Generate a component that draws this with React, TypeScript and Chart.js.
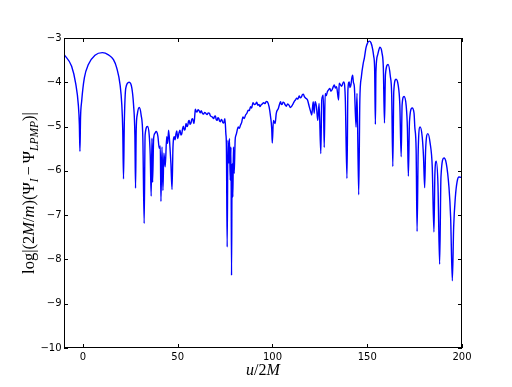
import React, { useEffect, useRef } from 'react';
import { Chart, registerables } from 'chart.js';

Chart.register(...registerables);

// u/2M values (each line aligned with the same line in logValues)
const uValues: number[] = [
  -10.0, -5.98, -3.87, -2.44, -1.9, -1.59, -1.27, -0.69, 0.74, 2.86, 6.35, 10.27, 13.45, 16.1,
  17.85, 19.6, 20.5, 21.0, 21.4, 21.8, 22.6, 24.36, 25.8, 26.7, 27.4, 27.75, 28.1, 28.7, 29.65, 30.7,
  31.6, 32.3, 32.8, 34.1, 34.95, 35.5, 36.0, 36.4, 36.75, 37.3, 38.0, 38.65, 39.55, 40.25, 40.8, 41.15, 41.7,
  42.2, 42.7, 43.4, 44.2, 44.7, 45.2, 45.9, 46.4, 47.0, 47.5, 48.2, 48.6, 49.1, 49.5, 50.0, 50.4, 50.8,
  51.2, 51.7, 52.1, 52.6, 53.0, 53.5, 53.9, 54.4, 54.9, 55.3, 55.7, 56.1, 56.5, 57.0, 57.4, 57.9,
  58.3, 58.6, 59.0, 59.3, 59.8, 60.2, 60.7, 61.4, 61.9, 62.4, 62.9, 63.5, 64.3, 64.8, 65.5, 66.1,
  66.7, 67.3, 68.1,
  69.0, 69.4, 69.9, 70.3, 70.8, 71.2, 71.7, 72.1, 72.5, 73.0, 73.4, 73.8, 74.3, 74.6, 74.9,
  75.4, 75.7, 76.1, 76.5, 77.0, 77.3, 77.7, 78.1, 78.4, 78.7, 79.1, 79.4, 79.8, 80.3,
  80.7, 81.0, 81.4, 81.9, 82.5, 83.1, 83.8, 84.4, 85.1, 85.8, 86.5, 87.2, 87.8, 88.4, 89.0,
  89.7, 90.4, 91.1, 91.7, 92.3, 92.9, 93.4, 94.0, 94.6, 95.3,
  96.1, 96.7, 97.3, 98.2, 99.0, 99.6, 99.9, 100.5, 101.4, 102.0, 103.1, 104.3, 104.7, 105.2,
  105.6, 106.1, 106.7, 107.3, 108.0, 108.8, 109.4, 110.0, 110.7, 111.4, 112.1, 112.8, 113.4,
  114.1, 114.7, 115.3, 115.8, 116.3, 116.9, 117.6, 118.5, 119.4, 120.2, 120.7, 121.5,
  122.0, 122.5, 123.2, 123.9, 124.6, 125.5, 126.0, 126.8, 127.3, 127.8, 128.4, 129.0, 129.6,
  130.3, 130.8, 131.3, 131.9, 132.6, 133.2, 133.8, 134.9, 135.2, 136.5, 137.5, 138.4, 139.3,
  139.8, 140.5, 140.9, 141.4, 141.8, 142.3, 142.7, 143.2, 144.1, 144.6, 145.5, 146.1, 146.9, 147.9,
  148.5, 149.3, 150.2, 151.1, 152.0, 152.9, 153.4, 153.9, 154.3, 154.6, 155.5, 156.7, 157.8, 158.5,
  159.1, 159.6, 161.0, 162.2, 162.9, 163.5, 164.0, 165.2, 166.3, 167.2, 167.9, 168.4, 169.4, 170.5,
  171.2, 171.7, 172.3, 173.7,
  174.7, 175.1, 175.8, 176.3, 176.9, 177.9, 179.0, 179.7, 180.3, 180.8, 182.0, 183.2, 184.3, 185.2,
  185.7, 186.4, 187.3, 188.2, 188.9, 190.5, 191.7, 193.1, 194.0, 194.9, 195.6, 196.5, 197.4, 198.4,
  199.6, 200.0,
];

// log|(2M/m)(Psi_I - Psi_LPMP)| values
const logValues: number[] = [
  -3.37, -3.64, -4.02, -4.51, -4.95, -5.56, -4.8, -4.43, -3.90, -3.60, -3.39, -3.33, -3.38, -3.49,
  -3.68, -4.06, -4.51, -5.08, -6.18, -4.97, -4.13, -4.0, -4.13, -4.51, -5.19, -6.39, -5.08, -4.72, -4.57, -4.74,
  -5.26, -7.19, -5.19, -5.0, -5.19, -5.64, -6.57, -5.26, -6.26, -5.26, -5.15, -5.11, -5.22, -5.49, -5.44, -6.69, -5.46,
  -6.44, -5.6, -5.91, -5.23, -5.38, -5.08, -5.46, -5.83, -6.42, -5.46, -5.23, -5.3, -5.16, -5.1, -5.27, -5.2, -5.12,
  -5.08, -5.19, -5.17, -5.04, -4.99, -5.08, -5.06, -4.93, -5.0, -4.97, -4.88, -4.86, -4.95, -4.92, -4.84, -4.82,
  -4.9, -4.93, -4.75, -4.61, -4.66, -4.67, -4.62, -4.65, -4.69, -4.64, -4.69, -4.72, -4.68, -4.7, -4.73, -4.69,
  -4.70, -4.76, -4.78,
  -4.82, -4.77, -4.76, -4.84, -4.86, -4.8, -4.82, -4.88, -4.89, -4.84, -4.86, -4.91, -4.92, -4.86, -4.82,
  -5.16, -5.46, -7.72, -5.31, -5.83, -5.27, -6.21, -5.46, -8.36, -5.83, -6.59, -5.46, -6.06, -5.31,
  -5.2, -5.16, -5.08, -5.01, -5.04, -4.97, -4.9, -4.78, -4.82, -4.74, -4.7, -4.63, -4.64, -4.55, -4.58,
  -4.46, -4.5, -4.49, -4.45, -4.52, -4.5, -4.55, -4.51, -4.49, -4.46,
  -4.48, -4.43, -4.44, -4.55, -4.78, -5.04, -5.37, -4.86, -4.93, -4.70, -4.59, -4.44, -4.5, -4.49,
  -4.45, -4.46, -4.51, -4.54, -4.49, -4.52, -4.57, -4.55, -4.5, -4.44, -4.4, -4.36, -4.38,
  -4.31, -4.35, -4.33, -4.28, -4.27, -4.33, -4.36, -4.40, -4.55, -4.67, -4.74, -4.44,
  -4.70, -4.44, -4.55, -4.86, -4.48, -5.61, -4.40, -4.29, -5.47, -4.25, -4.3, -4.21, -4.17,
  -4.14, -4.2, -4.18, -4.12, -4.06, -4.13, -4.10, -4.40, -4.02, -4.09, -3.99, -4.33, -6.17,
  -4.18, -3.99, -4.12, -4.06, -3.92, -3.84, -4.0, -4.10, -5.01, -4.25, -6.54, -4.40, -3.88, -3.57,
  -3.45, -3.23, -3.11, -3.07, -3.11, -3.26, -3.41, -3.68, -4.95, -3.75, -3.38, -3.21, -3.34, -3.68,
  -4.92, -3.83, -3.60, -3.87, -4.28, -5.90, -4.21, -3.93, -4.06, -4.51, -5.68, -4.51, -4.32, -4.51,
  -5.04, -6.12, -4.88, -4.58,
  -4.70, -5.01, -5.53, -7.37, -5.53, -5.01, -5.23, -5.69, -6.38, -5.53, -5.16, -5.38, -5.91, -7.38,
  -6.06, -5.78, -6.29, -8.11, -6.14, -5.71, -5.83, -6.36, -7.04, -8.48, -7.27, -6.59, -6.25, -6.14,
  -6.15, -6.17,
];

const xTicks: number[] = [0, 50, 100, 150, 200];
const yTicks: number[] = [-10, -9, -8, -7, -6, -5, -4, -3];

type Seg = { t: string; it?: boolean; sub?: boolean; gap?: number };

const yLabelSegs: Seg[] = [
  { t: 'log' },
  { t: '|(2' },
  { t: 'M', it: true },
  { t: '/' },
  { t: 'm', it: true },
  { t: ')(Ψ' },
  { t: 'I', it: true, sub: true },
  { t: '−', gap: 3 },
  { t: 'Ψ' },
  { t: 'LPMP', it: true, sub: true },
  { t: ')|' },
];

const xLabelSegs: Seg[] = [
  { t: 'u', it: true },
  { t: '/2' },
  { t: 'M', it: true },
];

const FAMILY = '"Liberation Serif", "DejaVu Serif", serif';

function fontFor(s: Seg, size: number) {
  const sz = s.sub ? size * 0.7 : size;
  return `${s.it ? 'italic ' : ''}${sz}px ${FAMILY}`;
}

function drawRich(ctx: CanvasRenderingContext2D, segs: Seg[], size: number, cx: number) {
  let total = 0;
  const widths: number[] = [];
  segs.forEach((s) => {
    ctx.font = fontFor(s, size);
    const w = ctx.measureText(s.t).width + 2 * (s.gap || 0);
    widths.push(w);
    total += w;
  });
  let x = cx - total / 2;
  ctx.textBaseline = 'alphabetic';
  ctx.textAlign = 'left';
  segs.forEach((s, i) => {
    ctx.font = fontFor(s, size);
    ctx.fillText(s.t, x + (s.gap || 0), s.sub ? size * 0.25 : 0);
    x += widths[i];
  });
}

function fmt(v: number | string) {
  return String(v).replace('-', '\u2212');
}

export default function App() {
  const ref = useRef<HTMLCanvasElement>(null);

  useEffect(() => {
    if (!ref.current) return;
    const points = uValues.map((u, i) => ({ x: u, y: logValues[i] }));

    const decor = {
      id: 'decor',
      afterDraw(chart: any) {
        const { ctx, chartArea: a, scales } = chart;
        ctx.save();
        ctx.strokeStyle = '#000';
        ctx.lineWidth = 1;
        ctx.strokeRect(a.left + 0.5, a.top + 0.5, a.right - a.left - 1, a.bottom - a.top - 1);
        ctx.beginPath();
        xTicks.forEach((v) => {
          const px = Math.round(scales.x.getPixelForValue(v)) + 0.5;
          ctx.moveTo(px, a.bottom);
          ctx.lineTo(px, a.bottom - 4);
          ctx.moveTo(px, a.top);
          ctx.lineTo(px, a.top + 4);
        });
        yTicks.forEach((v) => {
          const py = Math.round(scales.y.getPixelForValue(v)) + 0.5;
          ctx.moveTo(a.left, py);
          ctx.lineTo(a.left + 4, py);
          ctx.moveTo(a.right, py);
          ctx.lineTo(a.right - 4, py);
        });
        ctx.stroke();

        ctx.fillStyle = '#000';
        ctx.save();
        ctx.translate(0, 375);
        drawRich(ctx, xLabelSegs, 16, (a.left + a.right) / 2);
        ctx.restore();
        ctx.save();
        ctx.translate(34, 0);
        ctx.rotate(-Math.PI / 2);
        drawRich(ctx, yLabelSegs, 16.5, -193);
        ctx.restore();
        ctx.restore();
      },
    };

    const chart = new Chart(ref.current, {
      type: 'line',
      data: {
        datasets: [
          {
            data: points,
            borderColor: '#0000ff',
            borderWidth: 1.4,
            pointRadius: 0,
            fill: false,
            cubicInterpolationMode: 'monotone',
          },
        ],
      },
      options: {
        animation: false,
        responsive: false,
        layout: { padding: { left: 0, top: 38, right: 50, bottom: 0 } },
        plugins: { legend: { display: false }, tooltip: { enabled: false } },
        scales: {
          x: {
            type: 'linear',
            min: -10,
            max: 200,
            afterBuildTicks: (s: any) => {
              s.ticks = xTicks.map((v) => ({ value: v }));
            },
            afterFit: (s: any) => {
              s.height = 39;
            },
            grid: { display: false, drawTicks: false },
            border: { display: false },
            ticks: {
              padding: 3,
              color: '#000',
              autoSkip: false,
              maxRotation: 0,
              font: { family: '"DejaVu Sans"', size: 10 },
              callback: (v: any) => fmt(v),
            },
          },
          y: {
            type: 'linear',
            min: -10,
            max: -3,
            afterBuildTicks: (s: any) => {
              s.ticks = yTicks.map((v) => ({ value: v }));
            },
            afterFit: (s: any) => {
              s.width = 64;
            },
            grid: { display: false, drawTicks: false },
            border: { display: false },
            ticks: {
              padding: 2.5,
              color: '#000',
              autoSkip: false,
              font: { family: '"DejaVu Sans"', size: 10 },
              callback: (v: any) => fmt(v),
            },
          },
        },
      },
      plugins: [decor],
    } as any);

    return () => chart.destroy();
  }, []);

  return (
    <div style={{ position: 'fixed', left: 0, top: 0, width: 512, height: 387, background: '#fff' }}>
      <canvas ref={ref} width={512} height={387} style={{ display: 'block', width: 512, height: 387 }} />
    </div>
  );
}
